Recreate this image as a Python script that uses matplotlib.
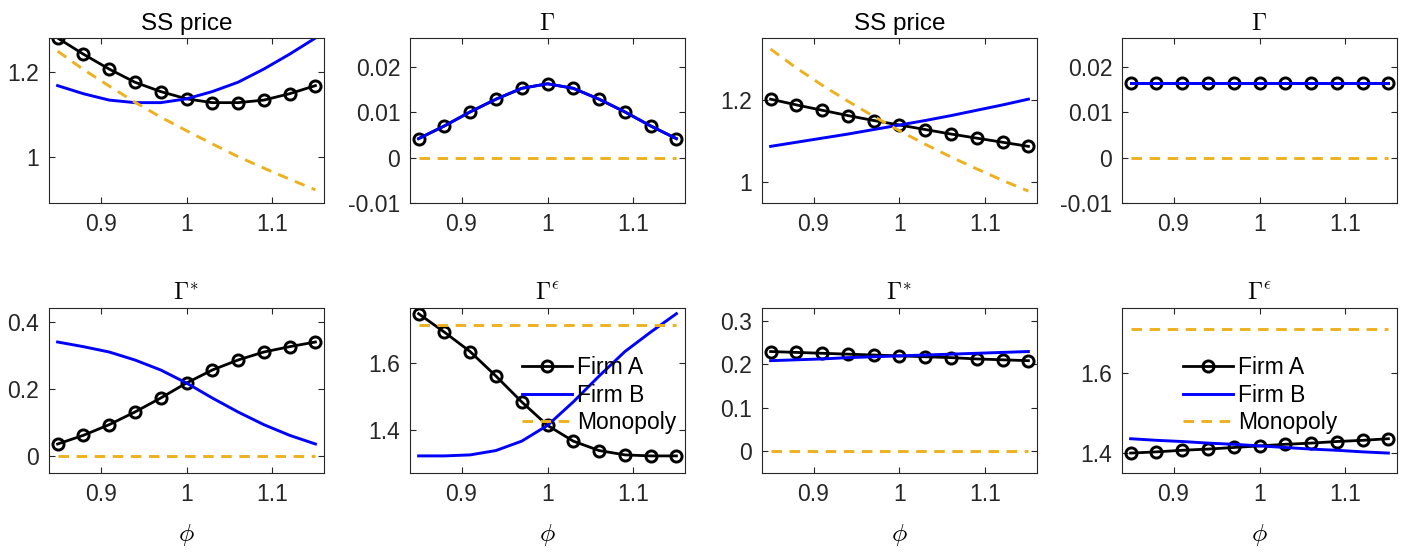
import matplotlib

matplotlib.use("Agg")

import matplotlib.pyplot as plt
from matplotlib.ticker import FuncFormatter

plt.rcParams["font.family"] = ["Liberation Sans", "DejaVu Sans"]
plt.rcParams["mathtext.fontset"] = "cm"
plt.rcParams["axes.unicode_minus"] = False

# valeurs
phi = [0.85, 0.88, 0.91, 0.94, 0.97, 1.00, 1.03, 1.06, 1.09, 1.12, 1.15]

# modele asymetrique (colonnes 1-2)
price_a_L = [1.281, 1.243, 1.208, 1.177, 1.155, 1.138, 1.129, 1.129, 1.135, 1.150, 1.169]
price_b_L = [1.169, 1.150, 1.135, 1.129, 1.129, 1.138, 1.155, 1.177, 1.208, 1.243, 1.281]
price_m_L = [1.250, 1.207, 1.168, 1.130, 1.095, 1.063, 1.032, 1.002, 0.975, 0.949, 0.924]
gam_a_L = [0.0042, 0.0070, 0.0101, 0.0129, 0.0153, 0.0163, 0.0153, 0.0129, 0.0101, 0.0070, 0.0042]
gam_b_L = [0.0042, 0.0070, 0.0101, 0.0129, 0.0153, 0.0163, 0.0153, 0.0129, 0.0101, 0.0070, 0.0042]
gam_m_L = [0.0] * 11
gs_a_L = [0.035, 0.061, 0.093, 0.131, 0.173, 0.218, 0.257, 0.287, 0.311, 0.327, 0.341]
gs_b_L = [0.341, 0.327, 0.311, 0.287, 0.257, 0.218, 0.173, 0.131, 0.093, 0.061, 0.035]
gs_m_L = [0.0] * 11
ge_a_L = [1.748, 1.693, 1.635, 1.562, 1.485, 1.415, 1.368, 1.340, 1.327, 1.324, 1.324]
ge_b_L = [1.324, 1.324, 1.327, 1.340, 1.368, 1.415, 1.485, 1.562, 1.635, 1.693, 1.748]
ge_m_L = [1.713] * 11

# colonnes 3-4
price_a_R = [1.202, 1.188, 1.175, 1.162, 1.150, 1.139, 1.128, 1.117, 1.107, 1.097, 1.087]
price_b_R = [1.087, 1.097, 1.107, 1.117, 1.128, 1.139, 1.150, 1.162, 1.175, 1.188, 1.202]
price_m_R = [1.324, 1.278, 1.236, 1.197, 1.160, 1.125, 1.092, 1.061, 1.032, 1.004, 0.978]
gam_a_R = [0.0164] * 11
gam_b_R = [0.0164] * 11
gam_m_R = [0.0] * 11
gs_a_R = [0.229, 0.227, 0.225, 0.223, 0.221, 0.219, 0.217, 0.215, 0.212, 0.210, 0.208]
gs_b_R = [0.208, 0.210, 0.212, 0.215, 0.217, 0.219, 0.221, 0.223, 0.225, 0.227, 0.229]
gs_m_R = [0.0] * 11
ge_a_R = [1.400, 1.403, 1.407, 1.410, 1.414, 1.418, 1.422, 1.425, 1.429, 1.432, 1.436]
ge_b_R = [1.436, 1.432, 1.429, 1.425, 1.422, 1.418, 1.414, 1.410, 1.407, 1.403, 1.400]
ge_m_R = [1.712] * 11

panels = [
    # (ligne, col, titre, A, B, M, ylim, yticks)
    (0, 0, "SS price", price_a_L, price_b_L, price_m_L, (0.893, 1.281), [1, 1.2]),
    (0, 1, r"$\Gamma$", gam_a_L, gam_b_L, gam_m_L, (-0.01, 0.0264), [-0.01, 0, 0.01, 0.02]),
    (0, 2, "SS price", price_a_R, price_b_R, price_m_R, (0.949, 1.351), [1, 1.2]),
    (0, 3, r"$\Gamma$", gam_a_R, gam_b_R, gam_m_R, (-0.01, 0.0264), [-0.01, 0, 0.01, 0.02]),
    (1, 0, r"$\Gamma^{\!*}$", gs_a_L, gs_b_L, gs_m_L, (-0.052, 0.443), [0, 0.2, 0.4]),
    (1, 1, r"$\Gamma^\epsilon$", ge_a_L, ge_b_L, ge_m_L, (1.273, 1.765), [1.4, 1.6]),
    (1, 2, r"$\Gamma^{\!*}$", gs_a_R, gs_b_R, gs_m_R, (-0.050, 0.329), [0, 0.1, 0.2, 0.3]),
    (1, 3, r"$\Gamma^\epsilon$", ge_a_R, ge_b_R, ge_m_R, (1.350, 1.764), [1.4, 1.6]),
]

W, H = 1408, 552
lefts = [49, 410, 762, 1122]
tops = [38, 308]
aw, ah = 275, 165

fig = plt.figure(figsize=(14.08, 5.52), dpi=100)
fmt = FuncFormatter(lambda v, p: f"{v:g}")
fs = 16.5

for row, col, title, ya, yb, ym, ylim, yticks in panels:
    x0 = lefts[col] / W
    y0 = 1 - (tops[row] + ah) / H
    ax = fig.add_axes([x0, y0, aw / W, ah / H])
    ax.plot(phi, ya, "k-o", lw=2.0, ms=8, mew=2.1, mfc="none", label="Firm A")
    ax.plot(phi, yb, "-", color="#0000ff", lw=2.1, label="Firm B")
    ax.plot(phi, ym, "--", color="#edb120", lw=2.1, dashes=(3.6, 2.6), label="Monopoly")
    ax.set_xlim(0.84, 1.16)
    ax.set_ylim(*ylim)
    ax.set_xticks([0.9, 1.0, 1.1])
    ax.set_yticks(yticks)
    ax.xaxis.set_major_formatter(fmt)
    ax.yaxis.set_major_formatter(fmt)
    ax.tick_params(direction="in", top=True, right=True, length=4, width=0.8,
                   labelsize=fs, colors="#262626", pad=7)
    for sp in ax.spines.values():
        sp.set_color("#262626")
        sp.set_linewidth(0.8)
    ax.set_title(title, fontsize=fs + 1, pad=6, color="black")
    if row == 1:
        ax.set_xlabel(r"$\phi$", fontsize=fs + 2, labelpad=12)
        if col in (1, 3):
            xa = 0.407 if col == 1 else 0.221
            ax.legend(loc="upper left", bbox_to_anchor=(xa, 0.708), frameon=False,
                      fontsize=fs, borderpad=0, borderaxespad=0, handlelength=2.2,
                      handletextpad=0.2, labelspacing=0.2)

fig.savefig("out.png", dpi=100)
